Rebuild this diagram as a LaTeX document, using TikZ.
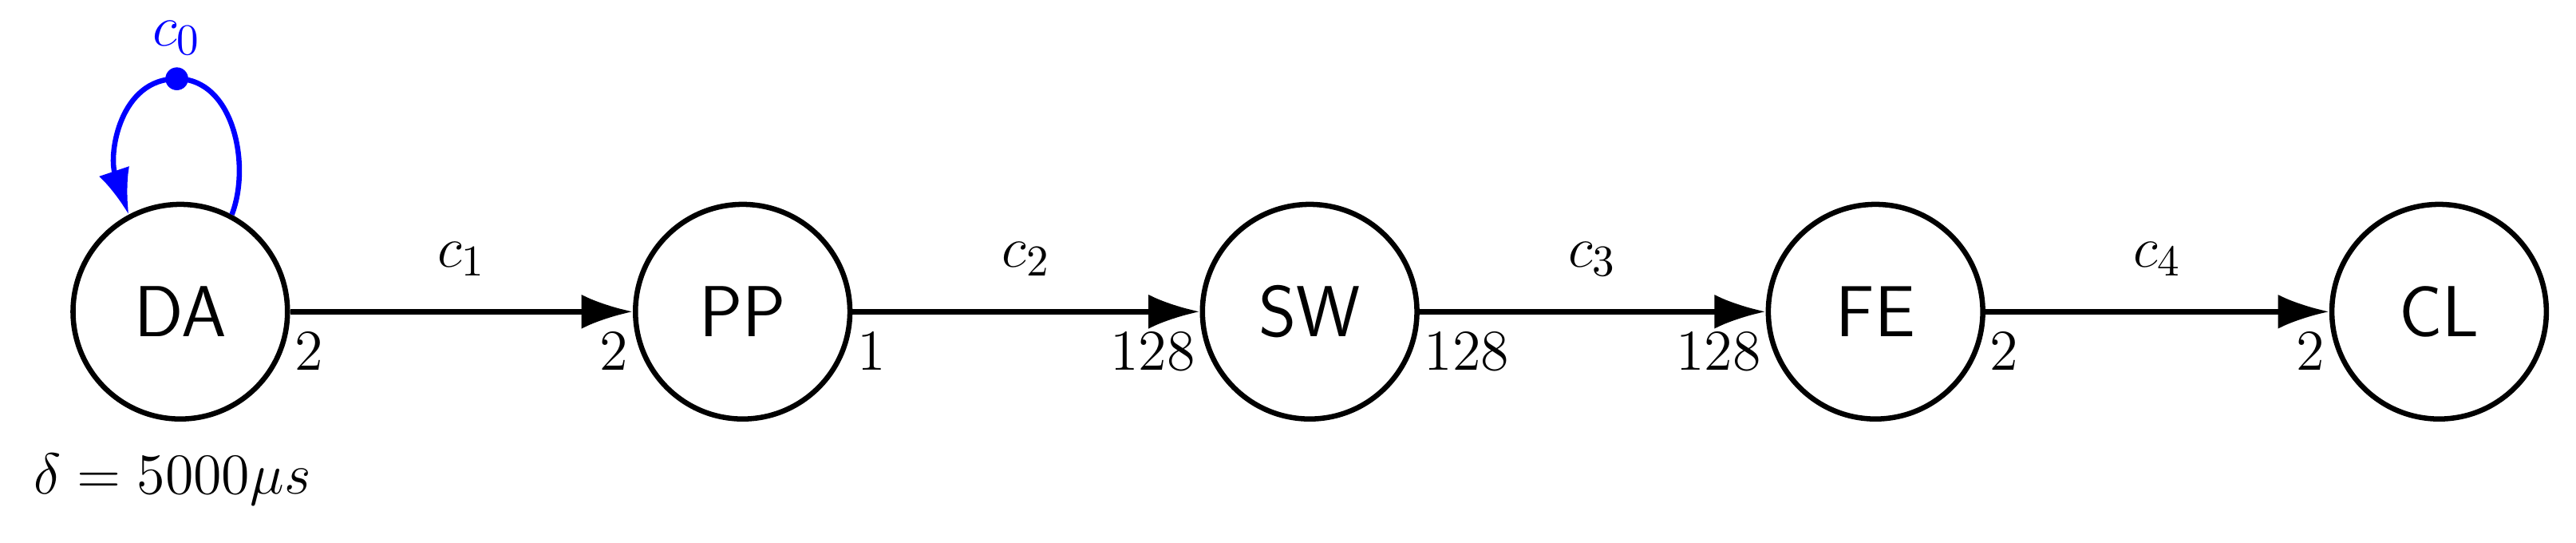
\documentclass[tikz,border=0pt]{standalone}
\usetikzlibrary{arrows.meta}
\begin{document}
\begin{tikzpicture}[
  every node/.style={font=\fontsize{15}{18}\selectfont},
  actor/.style={circle,draw,line width=1.3pt,minimum size=1.88cm,inner sep=0pt,font=\fontsize{18}{21}\selectfont\sffamily},
  edge/.style={line width=1.3pt,-{Latex[length=0.45cm,width=0.3cm]}},
  lab/.style={inner sep=1pt}
]
\useasboundingbox (0,0) rectangle (22.58,4.75);
\node[actor] (DA) at (1.58,2.02) {DA};
\node[actor] (PP) at (6.51,2.02) {PP};
\node[actor] (SW) at (11.48,2.02) {SW};
\node[actor] (FE) at (16.44,2.02) {FE};
\node[actor] (CL) at (21.38,2.02) {CL};
\foreach \a/\b/\c/\p/\q in {DA/PP/1/2/2, PP/SW/2/1/128, SW/FE/3/128/128, FE/CL/4/2/2}{
  \draw[edge] (\a.east) -- node[above=5pt] {$c_{\c}$} (\b.west);
  \node[lab,anchor=north west] at ([yshift=-4pt]\a.east) {$\p$};
  \node[lab,anchor=north east] at ([yshift=-4pt]\b.west) {$\q$};
}
\node (delta) at (1.51,0.55) {$\delta = 5000\mu s$};
\coordinate (dot) at (1.55,4.06);
\draw[blue,line width=1.3pt] (DA.62) .. controls (2.2,3.3) and (2.05,4.06) .. (dot);
\draw[blue,line width=1.3pt,-{Latex[length=0.4cm,width=0.28cm]}] (dot) .. controls (1.05,4.06) and (0.95,3.4) .. (DA.118);
\fill[blue] (dot) circle (0.1);
\node[blue] (c0) at (1.55,4.42) {$c_0$};
\end{tikzpicture}
\end{document}
